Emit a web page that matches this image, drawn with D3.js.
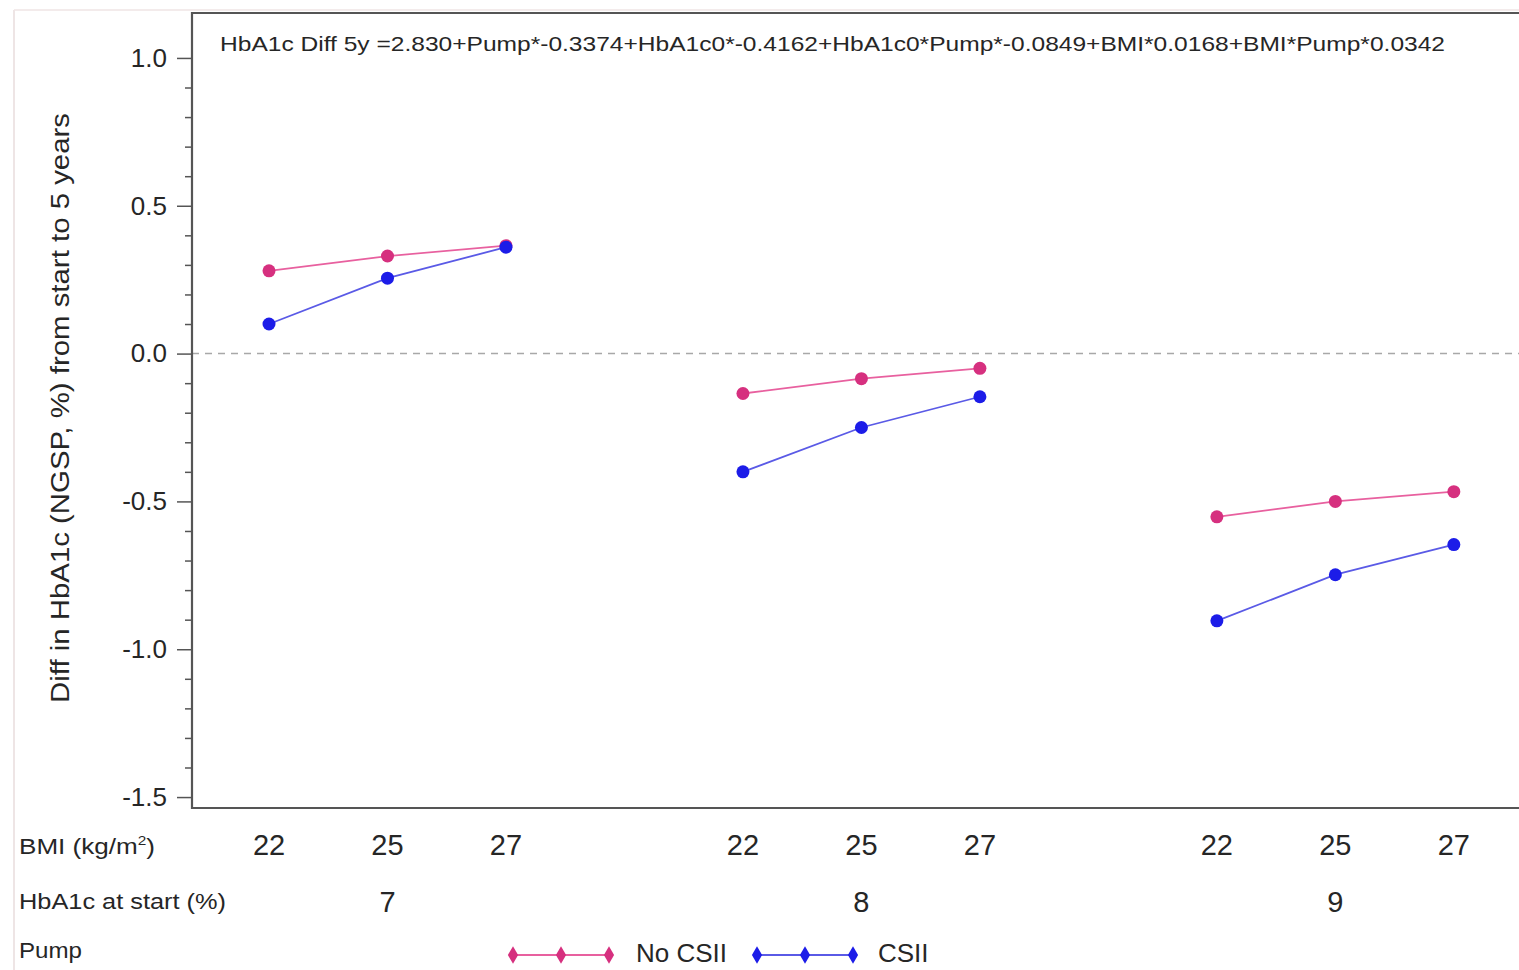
<!DOCTYPE html>
<html>
<head>
<meta charset="utf-8">
<script src="https://cdn.jsdelivr.net/npm/d3@7"></script>
<style>
  body { margin: 0; background: #fff; }
  svg { display: block; font-family: "Liberation Sans", Arial, sans-serif; }
</style>
</head>
<body>
<div id="chart"></div>
<script>
// data
const hba1cStart = [7, 8, 9];
const bmiLevels = [22, 25, 27];
const noCsii = [0.28, 0.33, 0.365, -0.135, -0.085, -0.05, -0.552, -0.50, -0.467];
const csii = [0.10, 0.255, 0.36, -0.40, -0.25, -0.146, -0.904, -0.748, -0.646];
const majorTicks = [1.0, 0.5, 0.0, -0.5, -1.0, -1.5];
const equation = "HbA1c Diff 5y =2.830+Pump*-0.3374+HbA1c0*-0.4162+HbA1c0*Pump*-0.0849+BMI*0.0168+BMI*Pump*0.0342";

const width = 1519, height = 970;
const pink = "#d6307f", pinkLine = "#e8609f";
const blue = "#1c1ce8", blueLine = "#5a5ae6";
const ink = "#262626";

const svg = d3.select("#chart").append("svg")
    .attr("width", width)
    .attr("height", height);

// faint outer border of the original image
svg.append("line").attr("x1", 14).attr("x2", 14).attr("y1", 10).attr("y2", height)
    .attr("stroke", "#e8dcdc").attr("stroke-width", 1.5);
svg.append("line").attr("x1", 14).attr("x2", width).attr("y1", 10).attr("y2", 10)
    .attr("stroke", "#efe4e4").attr("stroke-width", 1.5);

// each point sits at group*4 + bmi index
const rows = [];
hba1cStart.forEach((h, g) => {
    bmiLevels.forEach((b, i) => {
        const k = g * 3 + i;
        rows.push({ pos: g * 4 + i, bmi: b, hba1c: h, g: g, no: noCsii[k], yes: csii[k] });
    });
});

const x = d3.scaleLinear().domain([-0.65, 10.55]).range([192, 1519]);
const y = d3.scaleLinear().domain([-1.537, 1.152]).range([808, 13]);

// zero reference line
svg.append("line")
    .attr("x1", x(-0.65)).attr("x2", width)
    .attr("y1", y(0)).attr("y2", y(0))
    .attr("stroke", "#a8a8a8").attr("stroke-width", 1.5)
    .attr("stroke-dasharray", "7,6");

// minor ticks
const minor = d3.range(-15, 11).map(d => d / 10).filter(d => Math.round(d * 10) % 5 !== 0);
svg.append("g")
    .attr("transform", `translate(${x(-0.65)},0)`)
    .call(d3.axisLeft(y).tickValues(minor).tickSize(7).tickFormat(""))
    .call(g => g.select(".domain").remove())
    .call(g => g.selectAll("line").attr("stroke", "#555").attr("stroke-width", 1.5));

// major ticks + labels
svg.append("g")
    .attr("transform", `translate(${x(-0.65)},0)`)
    .call(d3.axisLeft(y).tickValues(majorTicks).tickSize(15).tickPadding(10)
        .tickFormat(d => d.toFixed(1)))
    .call(g => g.select(".domain").remove())
    .call(g => g.selectAll("line").attr("stroke", "#555").attr("stroke-width", 1.5))
    .call(g => g.selectAll("text").attr("font-size", 26).attr("fill", ink)
        .attr("font-family", "Liberation Sans, Arial, sans-serif"));

// plot frame (right side runs off the picture)
svg.append("path")
    .attr("d", `M${width + 5},${y(1.152)} H${x(-0.65)} V${y(-1.537)} H${width + 5}`)
    .attr("fill", "none").attr("stroke", "#555").attr("stroke-width", 2.2);

// y title
svg.append("text")
    .attr("transform", `translate(69,${(113 + 703) / 2}) rotate(-90)`)
    .attr("text-anchor", "middle")
    .attr("font-size", 25)
    .attr("fill", ink)
    .attr("textLength", 590)
    .attr("lengthAdjust", "spacingAndGlyphs")
    .text("Diff in HbA1c (NGSP, %) from start to 5 years");

// equation
svg.append("text")
    .attr("x", 220).attr("y", 51)
    .attr("font-size", 21)
    .attr("fill", ink)
    .attr("textLength", 1225)
    .attr("lengthAdjust", "spacingAndGlyphs")
    .text(equation);

// series
const series = [
    { key: "no", dot: pink, line: pinkLine },
    { key: "yes", dot: blue, line: blueLine }
];
const lineGen = d3.line().x(d => x(d.pos)).y(d => y(d.v));

series.forEach(s => {
    hba1cStart.forEach((h, g) => {
        const pts = rows.filter(r => r.g === g).map(r => ({ pos: r.pos, v: r[s.key] }));
        svg.append("path")
            .attr("d", lineGen(pts))
            .attr("fill", "none")
            .attr("stroke", s.line)
            .attr("stroke-width", 1.8);
    });
    svg.append("g").selectAll("circle")
        .data(rows)
        .join("circle")
        .attr("cx", d => x(d.pos))
        .attr("cy", d => y(d[s.key]))
        .attr("r", 6.5)
        .attr("fill", s.dot);
});

// bottom table
const rowLabels = [
    { t: "BMI (kg/m", sup: "2", tail: ")", y: 854, len: 136 },
    { t: "HbA1c at start (%)", y: 909, len: 207 },
    { t: "Pump", y: 958, len: 63 }
];
rowLabels.forEach(r => {
    const tx = svg.append("text")
        .attr("x", 19).attr("y", r.y)
        .attr("font-size", 22)
        .attr("fill", ink)
        .attr("textLength", r.len)
        .attr("lengthAdjust", "spacingAndGlyphs");
    tx.append("tspan").text(r.t);
    if (r.sup) {
        tx.append("tspan").attr("font-size", 13).attr("dy", -9).text(r.sup);
        tx.append("tspan").attr("dy", 9).text(r.tail);
    }
});

svg.append("g").selectAll("text")
    .data(rows)
    .join("text")
    .attr("x", d => x(d.pos))
    .attr("y", 855)
    .attr("text-anchor", "middle")
    .attr("font-size", 29)
    .attr("fill", ink)
    .text(d => d.bmi);

svg.append("g").selectAll("text")
    .data(hba1cStart)
    .join("text")
    .attr("x", (d, g) => x(g * 4 + 1))
    .attr("y", 912)
    .attr("text-anchor", "middle")
    .attr("font-size", 29)
    .attr("fill", ink)
    .text(d => d);

// legend
const legend = [
    { label: "No CSII", dot: pink, line: pinkLine, x0: 513, tx: 636 },
    { label: "CSII", dot: blue, line: blueLine, x0: 757, tx: 878 }
];
const diamond = d3.symbol().type(d3.symbolDiamond).size(90);
legend.forEach(l => {
    const g = svg.append("g");
    g.append("line")
        .attr("x1", l.x0).attr("x2", l.x0 + 96)
        .attr("y1", 955).attr("y2", 955)
        .attr("stroke", l.line).attr("stroke-width", 1.8);
    [0, 48, 96].forEach(dx => {
        g.append("path")
            .attr("d", diamond)
            .attr("transform", `translate(${l.x0 + dx},955)`)
            .attr("fill", l.dot);
    });
    g.append("text")
        .attr("x", l.tx).attr("y", 962)
        .attr("font-size", 26)
        .attr("fill", ink)
        .text(l.label);
});
</script>
</body>
</html>
